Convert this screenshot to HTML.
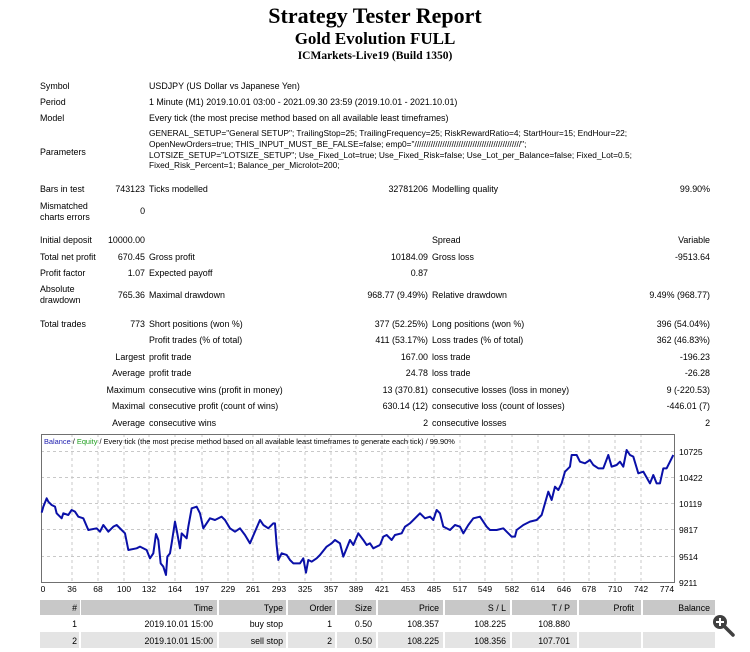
<!DOCTYPE html>
<html><head><meta charset="utf-8"><style>
body{margin:0;width:750px;height:652px;background:#fff;position:relative;overflow:hidden;font-family:"Liberation Sans",sans-serif;color:#000}
.t{position:absolute;font-size:8.9px;line-height:12px;white-space:nowrap}
.r{text-align:right}
h1,h2,h3{position:absolute;left:0;width:750px;text-align:center;margin:0;font-family:"Liberation Serif",serif;font-weight:bold}
</style></head><body>
<h1 style="top:3px;font-size:22px">Strategy Tester Report</h1>
<h2 style="top:29px;font-size:17px">Gold Evolution FULL</h2>
<h3 style="top:50px;font-size:11.5px">ICMarkets-Live19 (Build 1350)</h3>

<div class="t" style="left:40px;top:80px">Symbol</div>
<div class="t" style="left:149px;top:80px">USDJPY (US Dollar vs Japanese Yen)</div>
<div class="t" style="left:40px;top:96px">Period</div>
<div class="t" style="left:149px;top:96px">1 Minute (M1) 2019.10.01 03:00 - 2021.09.30 23:59 (2019.10.01 - 2021.10.01)</div>
<div class="t" style="left:40px;top:112px">Model</div>
<div class="t" style="left:149px;top:112px">Every tick (the most precise method based on all available least timeframes)</div>
<div class="t" style="left:40px;top:146px">Parameters</div>
<div class="t" style="left:149px;top:128px;line-height:10.8px;font-size:8.35px">GENERAL_SETUP="General SETUP"; TrailingStop=25; TrailingFrequency=25; RiskRewardRatio=4; StartHour=15; EndHour=22;<br>OpenNewOrders=true; THIS_INPUT_MUST_BE_FALSE=false; emp0="//////////////////////////////////////////////";<br>LOTSIZE_SETUP="LOTSIZE_SETUP"; Use_Fixed_Lot=true; Use_Fixed_Risk=false; Use_Lot_per_Balance=false; Fixed_Lot=0.5;<br>Fixed_Risk_Percent=1; Balance_per_Microlot=200;</div>
<div class="t" style="left:40px;top:183px">Bars in test</div>
<div class="t r" style="right:605px;top:183px">743123</div>
<div class="t" style="left:149px;top:183px">Ticks modelled</div>
<div class="t r" style="right:322px;top:183px">32781206</div>
<div class="t" style="left:432px;top:183px">Modelling quality</div>
<div class="t r" style="right:40px;top:183px">99.90%</div>
<div class="t" style="left:40px;top:201px;line-height:11px">Mismatched<br>charts errors</div>
<div class="t r" style="right:605px;top:205px">0</div>

<div class="t" style="left:40px;top:234px">Initial deposit</div>
<div class="t r" style="right:605px;top:234px">10000.00</div>
<div class="t" style="left:432px;top:234px">Spread</div>
<div class="t r" style="right:40px;top:234px">Variable</div>
<div class="t" style="left:40px;top:251px">Total net profit</div>
<div class="t r" style="right:605px;top:251px">670.45</div>
<div class="t" style="left:149px;top:251px">Gross profit</div>
<div class="t r" style="right:322px;top:251px">10184.09</div>
<div class="t" style="left:432px;top:251px">Gross loss</div>
<div class="t r" style="right:40px;top:251px">-9513.64</div>
<div class="t" style="left:40px;top:267px">Profit factor</div>
<div class="t r" style="right:605px;top:267px">1.07</div>
<div class="t" style="left:149px;top:267px">Expected payoff</div>
<div class="t r" style="right:322px;top:267px">0.87</div>
<div class="t" style="left:40px;top:284px;line-height:10.5px">Absolute<br>drawdown</div>
<div class="t r" style="right:605px;top:289px">765.36</div>
<div class="t" style="left:149px;top:289px">Maximal drawdown</div>
<div class="t r" style="right:322px;top:289px">968.77 (9.49%)</div>
<div class="t" style="left:432px;top:289px">Relative drawdown</div>
<div class="t r" style="right:40px;top:289px">9.49% (968.77)</div>

<div class="t" style="left:40px;top:318px">Total trades</div>
<div class="t r" style="right:605px;top:318px">773</div>
<div class="t" style="left:149px;top:318px">Short positions (won %)</div>
<div class="t r" style="right:322px;top:318px">377 (52.25%)</div>
<div class="t" style="left:432px;top:318px">Long positions (won %)</div>
<div class="t r" style="right:40px;top:318px">396 (54.04%)</div>
<div class="t" style="left:149px;top:334px">Profit trades (% of total)</div>
<div class="t r" style="right:322px;top:334px">411 (53.17%)</div>
<div class="t" style="left:432px;top:334px">Loss trades (% of total)</div>
<div class="t r" style="right:40px;top:334px">362 (46.83%)</div>
<div class="t r" style="right:605px;top:351px">Largest</div>
<div class="t" style="left:149px;top:351px">profit trade</div>
<div class="t r" style="right:322px;top:351px">167.00</div>
<div class="t" style="left:432px;top:351px">loss trade</div>
<div class="t r" style="right:40px;top:351px">-196.23</div>
<div class="t r" style="right:605px;top:367px">Average</div>
<div class="t" style="left:149px;top:367px">profit trade</div>
<div class="t r" style="right:322px;top:367px">24.78</div>
<div class="t" style="left:432px;top:367px">loss trade</div>
<div class="t r" style="right:40px;top:367px">-26.28</div>
<div class="t r" style="right:605px;top:384px">Maximum</div>
<div class="t" style="left:149px;top:384px">consecutive wins (profit in money)</div>
<div class="t r" style="right:322px;top:384px">13 (370.81)</div>
<div class="t" style="left:432px;top:384px">consecutive losses (loss in money)</div>
<div class="t r" style="right:40px;top:384px">9 (-220.53)</div>
<div class="t r" style="right:605px;top:400px">Maximal</div>
<div class="t" style="left:149px;top:400px">consecutive profit (count of wins)</div>
<div class="t r" style="right:322px;top:400px">630.14 (12)</div>
<div class="t" style="left:432px;top:400px">consecutive loss (count of losses)</div>
<div class="t r" style="right:40px;top:400px">-446.01 (7)</div>
<div class="t r" style="right:605px;top:417px">Average</div>
<div class="t" style="left:149px;top:417px">consecutive wins</div>
<div class="t r" style="right:322px;top:417px">2</div>
<div class="t" style="left:432px;top:417px">consecutive losses</div>
<div class="t r" style="right:40px;top:417px">2</div>

<svg style="position:absolute;left:0;top:0" width="750" height="652">
<g stroke="#c8c8c8" stroke-dasharray="3,3" stroke-width="1">
<line x1="41" x2="675" y1="451.5" y2="451.5"/><line x1="41" x2="675" y1="477.5" y2="477.5"/><line x1="41" x2="675" y1="503.5" y2="503.5"/><line x1="41" x2="675" y1="529.5" y2="529.5"/><line x1="41" x2="675" y1="556.5" y2="556.5"/>
<line x1="72" x2="72" y1="434" y2="583"/><line x1="98" x2="98" y1="434" y2="583"/><line x1="124" x2="124" y1="434" y2="583"/><line x1="149" x2="149" y1="434" y2="583"/><line x1="175" x2="175" y1="434" y2="583"/><line x1="202" x2="202" y1="434" y2="583"/><line x1="228" x2="228" y1="434" y2="583"/><line x1="253" x2="253" y1="434" y2="583"/><line x1="279" x2="279" y1="434" y2="583"/><line x1="305" x2="305" y1="434" y2="583"/><line x1="331" x2="331" y1="434" y2="583"/><line x1="356" x2="356" y1="434" y2="583"/><line x1="382" x2="382" y1="434" y2="583"/><line x1="408" x2="408" y1="434" y2="583"/><line x1="434" x2="434" y1="434" y2="583"/><line x1="460" x2="460" y1="434" y2="583"/><line x1="485" x2="485" y1="434" y2="583"/><line x1="512" x2="512" y1="434" y2="583"/><line x1="538" x2="538" y1="434" y2="583"/><line x1="564" x2="564" y1="434" y2="583"/><line x1="589" x2="589" y1="434" y2="583"/><line x1="615" x2="615" y1="434" y2="583"/><line x1="641" x2="641" y1="434" y2="583"/>
</g>
<rect x="41.5" y="434.5" width="633" height="148" fill="none" stroke="#707070"/>
<g fill="none" stroke="#0a10a8" stroke-width="6" stroke-linejoin="round">
<polyline transform="translate(30,430) scale(0.3333)" points="35,248 40,230 50,205 55,215 65,225 75,230 80,250 95,265 100,250 115,255 125,240 135,245 145,260 160,265 175,300 200,295 210,305 220,285 235,305 250,290 260,285 275,300 285,310 295,360 320,355 330,350 350,360 360,385 370,370 378,312 385,330 392,400 400,410 408,435 412,380 420,370 425,340 435,275 440,300 450,355 455,310 470,325 475,290 485,235 500,230 510,250 520,295 540,265 555,270 575,260 585,270 600,295 615,305 630,295 645,315 660,340 675,305 690,270 700,285 715,295 730,280 735,280 740,345 745,390 755,370 770,375 780,390 790,400 810,400 820,385 828,428 835,390 845,395 860,385 870,375 890,350 905,340 915,330 930,340 940,380 950,355 960,330 970,345 985,310 1000,330 1010,345 1020,340 1030,355 1040,350 1050,345"/>
<polyline transform="translate(380,430) scale(0.3333)" points="0,345 10,320 20,315 35,330 45,315 65,310 75,290 90,280 100,270 120,250 135,265 150,260 160,270 170,240 180,250 190,290 210,300 225,285 240,290 250,310 265,285 280,265 300,260 320,290 330,300 350,300 370,295 380,305 395,320 405,320 410,300 430,285 450,275 470,270 485,255 495,220 505,185 515,210 525,170 535,180 545,160 555,125 570,110 575,75 590,75 600,95 615,100 630,90 640,105 655,115 670,115 685,75 695,110 710,105 720,95 730,110 740,60 750,75 760,80 775,130 790,125 810,160 820,135 830,160 840,160 850,115 860,115 870,95 880,75"/>
</g>
<g font-family="Liberation Sans,sans-serif" font-size="8.5" fill="#000">
<text x="44" y="444" font-size="7.4"><tspan fill="#2020b0">Balance</tspan> / <tspan fill="#20a020">Equity</tspan> / Every tick (the most precise method based on all available least timeframes to generate each tick) / 99.90%</text>
<g text-anchor="start"><text x="679" y="455">10725</text><text x="679" y="481">10422</text><text x="679" y="507">10119</text><text x="679" y="533">9817</text><text x="679" y="560">9514</text><text x="679" y="586">9211</text></g>
<g text-anchor="middle"><text x="43" y="592">0</text><text x="72" y="592">36</text><text x="98" y="592">68</text><text x="124" y="592">100</text><text x="149" y="592">132</text><text x="175" y="592">164</text><text x="202" y="592">197</text><text x="228" y="592">229</text><text x="253" y="592">261</text><text x="279" y="592">293</text><text x="305" y="592">325</text><text x="331" y="592">357</text><text x="356" y="592">389</text><text x="382" y="592">421</text><text x="408" y="592">453</text><text x="434" y="592">485</text><text x="460" y="592">517</text><text x="485" y="592">549</text><text x="512" y="592">582</text><text x="538" y="592">614</text><text x="564" y="592">646</text><text x="589" y="592">678</text><text x="615" y="592">710</text><text x="641" y="592">742</text><text x="667" y="592">774</text></g>
</g>
<g fill="#c8c8c8">
<rect x="40" y="600" width="40" height="15"/><rect x="81" y="600" width="136" height="15"/><rect x="219" y="600" width="67" height="15"/><rect x="288" y="600" width="47" height="15"/><rect x="337" y="600" width="39" height="15"/><rect x="378" y="600" width="65" height="15"/><rect x="445" y="600" width="65" height="15"/><rect x="512" y="600" width="65" height="15"/><rect x="579" y="600" width="62" height="15"/><rect x="643" y="600" width="72" height="15"/>
</g>
<rect x="40" y="632" width="675" height="16" fill="#e4e4e4"/>
<g stroke="#fff" stroke-width="2"><line x1="80" x2="80" y1="632" y2="648"/><line x1="218" x2="218" y1="632" y2="648"/><line x1="287" x2="287" y1="632" y2="648"/><line x1="336" x2="336" y1="632" y2="648"/><line x1="377" x2="377" y1="632" y2="648"/><line x1="444" x2="444" y1="632" y2="648"/><line x1="511" x2="511" y1="632" y2="648"/><line x1="578" x2="578" y1="632" y2="648"/><line x1="642" x2="642" y1="632" y2="648"/></g>
<g font-family="Liberation Sans,sans-serif" font-size="8.8" text-anchor="end">
<text x="77" y="611">#</text><text x="213" y="611">Time</text><text x="283" y="611">Type</text><text x="332" y="611">Order</text><text x="372" y="611">Size</text><text x="439" y="611">Price</text><text x="506" y="611">S / L</text><text x="570" y="611">T / P</text><text x="634" y="611">Profit</text><text x="710" y="611">Balance</text>
<text x="77" y="627">1</text><text x="213" y="627">2019.10.01 15:00</text><text x="283" y="627">buy stop</text><text x="332" y="627">1</text><text x="372" y="627">0.50</text><text x="439" y="627">108.357</text><text x="506" y="627">108.225</text><text x="570" y="627">108.880</text>
<text x="77" y="644">2</text><text x="213" y="644">2019.10.01 15:00</text><text x="283" y="644">sell stop</text><text x="332" y="644">2</text><text x="372" y="644">0.50</text><text x="439" y="644">108.225</text><text x="506" y="644">108.356</text><text x="570" y="644">107.701</text>
</g>
<circle cx="720" cy="622" r="7" fill="#404040"/>
<line x1="725" y1="627" x2="733" y2="635" stroke="#404040" stroke-width="3.5" stroke-linecap="round"/>
<path d="M716 622h8M720 618v8" stroke="#fff" stroke-width="2"/>
</svg>
</body></html>
